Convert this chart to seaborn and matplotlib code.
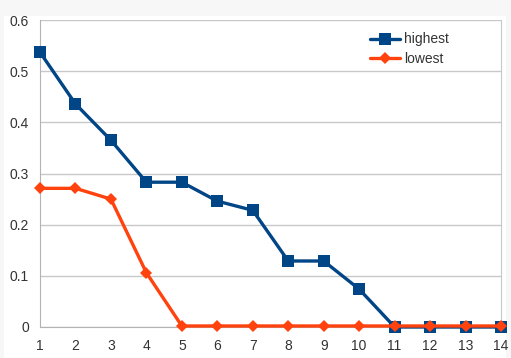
import numpy as np
import pandas as pd
import matplotlib
matplotlib.use("Agg")
import matplotlib.pyplot as plt
import seaborn as sns

# data
x_vals = [1, 2, 3, 4, 5, 6, 7, 8, 9, 10, 11, 12, 13, 14]
highest = [0.537, 0.436, 0.365, 0.283, 0.283, 0.246, 0.228, 0.129, 0.129, 0.074, 0.0, 0.0, 0.0, 0.0]
lowest = [0.271, 0.271, 0.250, 0.106, 0.002, 0.002, 0.002, 0.002, 0.002, 0.002, 0.002, 0.002, 0.002, 0.002]
y_ticks = [0, 0.1, 0.2, 0.3, 0.4, 0.5, 0.6]
y_labels = ["0", "0.1", "0.2", "0.3", "0.4", "0.5", "0.6"]

sns.set_style("white")
plt.rcParams['font.family'] = ['Liberation Sans', 'DejaVu Sans']

fig = plt.figure(figsize=(5.11, 3.58), dpi=100)
fig.patch.set_facecolor("#f7f7f7")
# white chart panel
fig.add_artist(plt.Rectangle((0.008, 0.0), 0.982, 0.955, transform=fig.transFigure,
                             facecolor="white", edgecolor="none", zorder=0))
ax = fig.add_axes([40 / 511, 31 / 358, 461 / 511, 307 / 358])
ax.set_facecolor("white")

sns.lineplot(x=x_vals, y=highest, ax=ax, color="#004586", linewidth=2.4,
             marker="s", markersize=8, markeredgewidth=0, label="highest", zorder=3)
sns.lineplot(x=x_vals, y=lowest, ax=ax, color="#ff420e", linewidth=2.4,
             marker="D", markersize=6, markeredgewidth=0, label="lowest", zorder=4)
for line in ax.lines:
    line.set_clip_on(False)

ax.set_xlim(1, 14)
ax.set_ylim(0, 0.6)
ax.set_xticks(x_vals)
ax.set_yticks(y_ticks)
ax.set_yticklabels(y_labels)
ax.grid(axis="y", color="#c8c8c8", linewidth=1)
ax.set_axisbelow(True)
ax.spines["top"].set_visible(False)
ax.spines["right"].set_color("#c8c8c8")
ax.spines["left"].set_color("#b3b3b3")
ax.spines["bottom"].set_color("#b3b3b3")
ax.tick_params(axis="x", length=5, color="#b3b3b3", labelsize=10, pad=4)
ax.tick_params(axis="y", length=5, color="#b3b3b3", labelsize=10, pad=3)
for lbl in ax.get_xticklabels() + ax.get_yticklabels():
    lbl.set_color("#333333")
ax.set_xlabel("")
ax.set_ylabel("")

leg = ax.legend(loc="upper right", bbox_to_anchor=(0.915, 1.0), frameon=False,
                fontsize=10, handlelength=2.2, handletextpad=0.3, labelspacing=0.4)
for t in leg.get_texts():
    t.set_color("#333333")

fig.savefig("out.png", dpi=100)
